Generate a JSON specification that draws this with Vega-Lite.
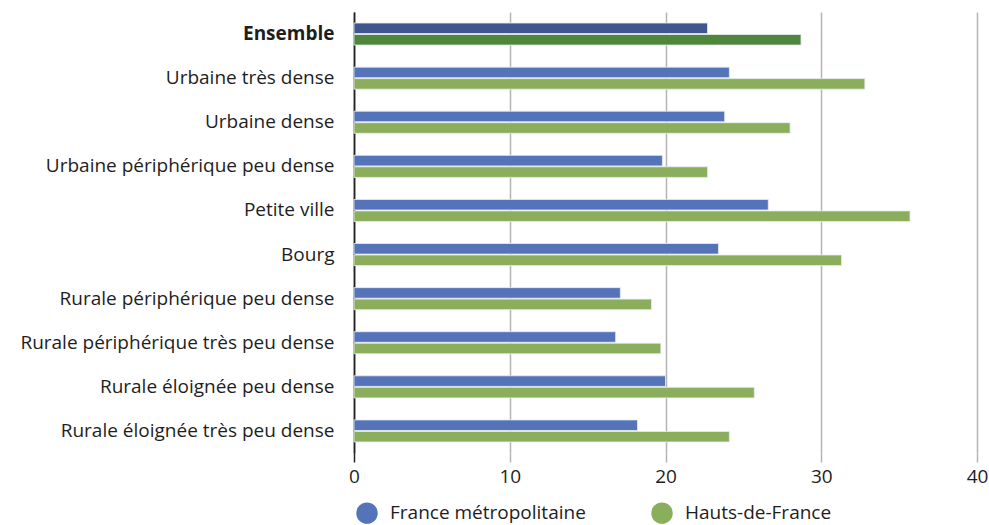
{
  "$schema": "https://vega.github.io/schema/vega-lite/v6.json",
  "autosize": "none",
  "width": 623,
  "height": 441,
  "padding": {"left": 354, "top": 12, "right": 12, "bottom": 72},
  "background": "white",
  "config": {
    "view": {"stroke": null},
    "font": "Open Sans",
    "axis": {"labelFont": "Open Sans", "labelFontSize": 19, "labelColor": "#1e1e1e", "labelLimit": 0},
    "legend": {"labelFont": "Open Sans", "labelFontSize": 19, "labelColor": "#1e1e1e", "labelLimit": 0}
  },
  "data": {
    "values": [
      {"categorie": "Ensemble", "serie": "France métropolitaine", "groupe": "France métropolitaine (ensemble)", "valeur": 22.7},
      {"categorie": "Ensemble", "serie": "Hauts-de-France", "groupe": "Hauts-de-France (ensemble)", "valeur": 28.7},
      {"categorie": "Urbaine très dense", "serie": "France métropolitaine", "groupe": "France métropolitaine", "valeur": 24.1},
      {"categorie": "Urbaine très dense", "serie": "Hauts-de-France", "groupe": "Hauts-de-France", "valeur": 32.8},
      {"categorie": "Urbaine dense", "serie": "France métropolitaine", "groupe": "France métropolitaine", "valeur": 23.8},
      {"categorie": "Urbaine dense", "serie": "Hauts-de-France", "groupe": "Hauts-de-France", "valeur": 28.0},
      {"categorie": "Urbaine périphérique peu dense", "serie": "France métropolitaine", "groupe": "France métropolitaine", "valeur": 19.8},
      {"categorie": "Urbaine périphérique peu dense", "serie": "Hauts-de-France", "groupe": "Hauts-de-France", "valeur": 22.7},
      {"categorie": "Petite ville", "serie": "France métropolitaine", "groupe": "France métropolitaine", "valeur": 26.6},
      {"categorie": "Petite ville", "serie": "Hauts-de-France", "groupe": "Hauts-de-France", "valeur": 35.7},
      {"categorie": "Bourg", "serie": "France métropolitaine", "groupe": "France métropolitaine", "valeur": 23.4},
      {"categorie": "Bourg", "serie": "Hauts-de-France", "groupe": "Hauts-de-France", "valeur": 31.3},
      {"categorie": "Rurale périphérique peu dense", "serie": "France métropolitaine", "groupe": "France métropolitaine", "valeur": 17.1},
      {"categorie": "Rurale périphérique peu dense", "serie": "Hauts-de-France", "groupe": "Hauts-de-France", "valeur": 19.1},
      {"categorie": "Rurale périphérique très peu dense", "serie": "France métropolitaine", "groupe": "France métropolitaine", "valeur": 16.8},
      {"categorie": "Rurale périphérique très peu dense", "serie": "Hauts-de-France", "groupe": "Hauts-de-France", "valeur": 19.7},
      {"categorie": "Rurale éloignée peu dense", "serie": "France métropolitaine", "groupe": "France métropolitaine", "valeur": 20.0},
      {"categorie": "Rurale éloignée peu dense", "serie": "Hauts-de-France", "groupe": "Hauts-de-France", "valeur": 25.7},
      {"categorie": "Rurale éloignée très peu dense", "serie": "France métropolitaine", "groupe": "France métropolitaine", "valeur": 18.2},
      {"categorie": "Rurale éloignée très peu dense", "serie": "Hauts-de-France", "groupe": "Hauts-de-France", "valeur": 24.1}
    ]
  },
  "mark": {"type": "bar", "stroke": "#e8ecf4", "strokeWidth": 0.8},
  "encoding": {
    "y": {
      "field": "categorie",
      "type": "nominal",
      "sort": null,
      "title": null,
      "scale": {"paddingInner": 0.5, "paddingOuter": 0.25},
      "axis": {
        "ticks": false,
        "domain": true,
        "domainColor": "#222222",
        "domainWidth": 1.5,
        "labelPadding": 20,
        "labelFontWeight": {"condition": {"test": "datum.value === 'Ensemble'", "value": "bold"}, "value": "normal"}
      }
    },
    "yOffset": {
      "field": "serie",
      "type": "nominal",
      "sort": ["France métropolitaine", "Hauts-de-France"],
      "scale": {"paddingInner": 0.08}
    },
    "x": {
      "field": "valeur",
      "type": "quantitative",
      "title": null,
      "scale": {"domain": [0, 40], "nice": false},
      "axis": {
        "values": [0, 10, 20, 30, 40],
        "grid": true,
        "gridColor": {"condition": {"test": "datum.value === 0", "value": "#222222"}, "value": "#b4b4b4"},
        "gridWidth": 1.5,
        "domain": false,
        "ticks": true,
        "tickSize": 9,
        "tickWidth": 1.5,
        "tickColor": {"condition": {"test": "datum.value === 0", "value": "#222222"}, "value": "#b4b4b4"},
        "labelFlush": false,
        "labelPadding": 5
      }
    },
    "color": {
      "field": "groupe",
      "type": "nominal",
      "title": null,
      "scale": {
        "domain": ["France métropolitaine", "Hauts-de-France", "France métropolitaine (ensemble)", "Hauts-de-France (ensemble)"],
        "range": ["#5473b9", "#8aae5c", "#3f568e", "#4e873c"]
      },
      "legend": {
        "values": ["France métropolitaine", "Hauts-de-France"],
        "orient": "none",
        "legendX": 2,
        "legendY": 490,
        "direction": "horizontal",
        "symbolType": "circle",
        "symbolSize": 460,
        "symbolStrokeWidth": 0,
        "labelOffset": 12,
        "columnPadding": 65
      }
    }
  }
}
